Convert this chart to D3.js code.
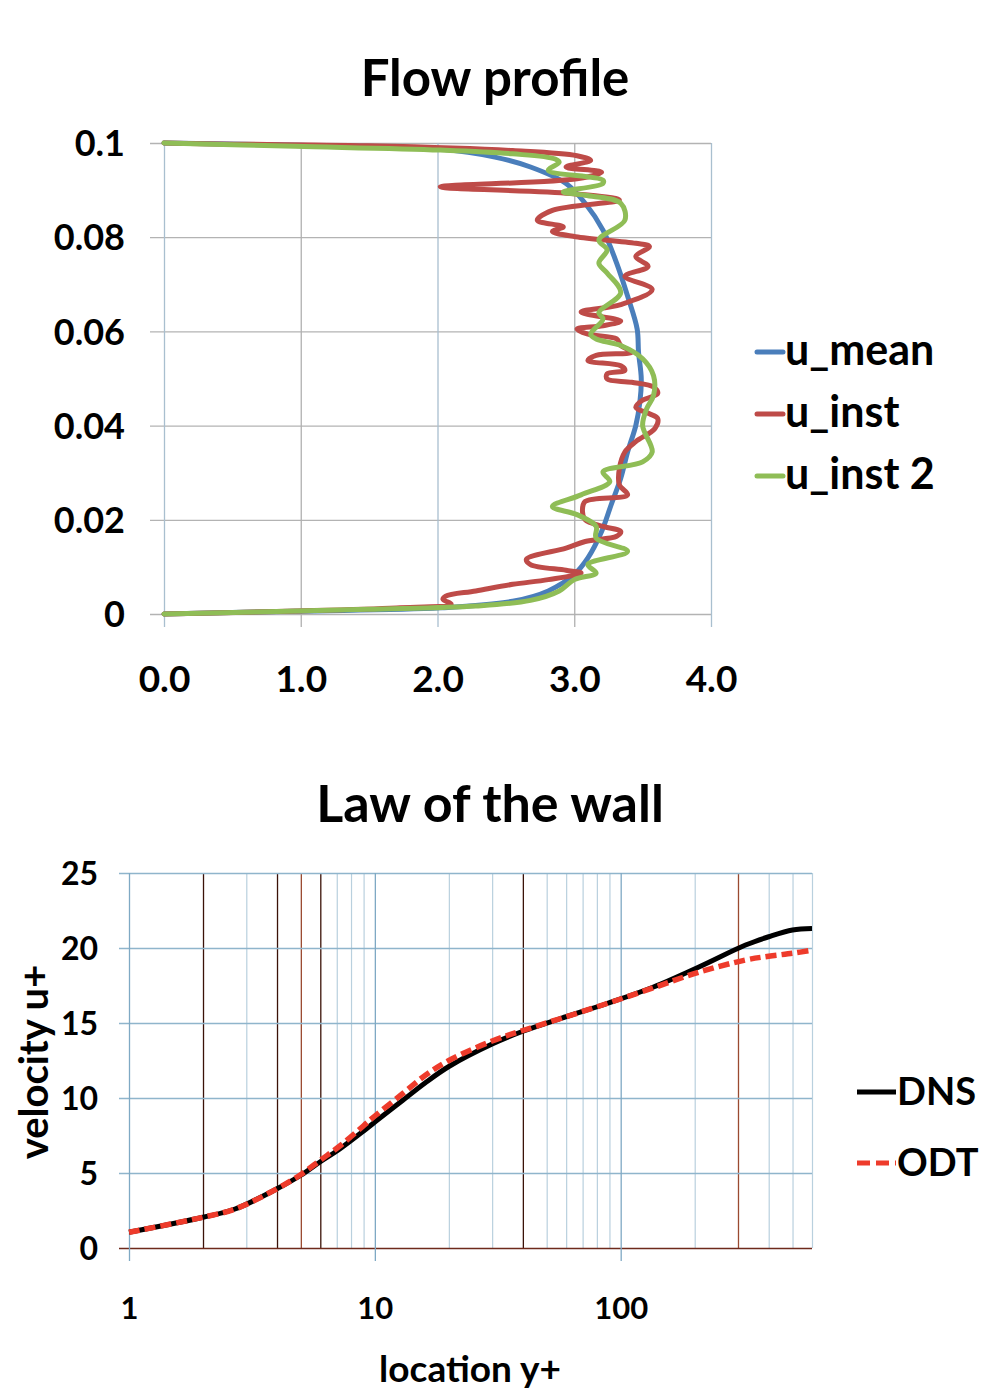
<!DOCTYPE html>
<head>
  <meta charset="utf-8">
  <script src="https://d3js.org/d3.v7.min.js"></script>
  <style>
    body { margin:0; background:#fff; }
    svg { display:block; }
    text { font-family: Lato, "Noto Sans", sans-serif; font-weight:700; fill:#000; }
  </style>
</head>
<body>
  <svg width="989" height="1389"></svg>
  <script>
    // ---- flow profile: wall distance (y) and velocity (u) for each series
    var meanY = [0, 0.0006, 0.0013, 0.0027, 0.0049, 0.0084, 0.0119, 0.0175, 0.0232, 0.0288, 0.0344, 0.04, 0.045, 0.05,
                 0.0556, 0.0605, 0.0675, 0.0745, 0.0815, 0.0872, 0.0914, 0.0949, 0.097, 0.0987, 0.0995, 0.1];
    var meanU = [0, 0.96, 2.02, 2.55, 2.81, 3.0, 3.10, 3.20, 3.27, 3.34, 3.39, 3.45, 3.48, 3.49,
                 3.47, 3.46, 3.39, 3.31, 3.21, 3.08, 2.94, 2.68, 2.42, 2.02, 1.0, 0];

    var instY = [0, 0.0006, 0.0013, 0.0021, 0.0031, 0.0038, 0.0049, 0.0063, 0.0073, 0.0087, 0.0093, 0.0105, 0.0116,
                 0.014, 0.0154, 0.0165, 0.0175, 0.0186, 0.02, 0.0218, 0.0239, 0.0253, 0.0274, 0.0309, 0.0344, 0.0366,
                 0.0394, 0.0415, 0.0425, 0.0439, 0.0454, 0.0468, 0.0482, 0.0492, 0.0499, 0.051, 0.0517, 0.0527, 0.0538,
                 0.0549, 0.0556, 0.057, 0.0584, 0.0594, 0.0605, 0.0612, 0.0622, 0.0641, 0.0657, 0.0689, 0.0717, 0.0738,
                 0.0759, 0.078, 0.0787, 0.0801, 0.0812, 0.0822, 0.0836, 0.0857, 0.0879, 0.0893, 0.0907, 0.0924, 0.0938,
                 0.0949, 0.0963, 0.0973, 0.0984, 0.0994, 0.0998, 0.1];
    var instU = [0, 0.9, 1.7, 2.1, 2.04, 2.06, 2.28, 2.55, 2.81, 3.05, 2.94, 2.68, 2.65,
                 2.94, 3.08, 3.31, 3.34, 3.21, 3.08, 3.06, 3.08, 3.39, 3.33, 3.33, 3.37, 3.45,
                 3.59, 3.61, 3.55, 3.45, 3.50, 3.61, 3.58, 3.42, 3.24, 3.24, 3.37, 3.34, 3.10,
                 3.16, 3.42, 3.34, 3.31, 3.10, 3.02, 3.21, 3.34, 3.05, 3.34, 3.57, 3.37, 3.54,
                 3.45, 3.55, 3.45, 3.01, 2.84, 2.92, 2.73, 2.84, 3.33, 2.97, 2.02, 3.02, 3.20,
                 2.94, 3.12, 3.02, 2.55, 1.49, 0.4, 0];

    var inst2Y = [0, 0.001, 0.0017, 0.0029, 0.0049, 0.0073, 0.0087, 0.0105, 0.0133, 0.0161, 0.0186, 0.0211, 0.0228,
                  0.0253, 0.0281, 0.0302, 0.0323, 0.0344, 0.04, 0.0436, 0.0464, 0.0506, 0.0542, 0.057, 0.0584, 0.0594,
                  0.0626, 0.064, 0.0682, 0.0724, 0.0745, 0.0773, 0.0794, 0.0836, 0.0872, 0.0889, 0.0896, 0.0914, 0.0921,
                  0.0942, 0.0959, 0.0966, 0.0977, 0.0985, 0.0993, 0.1];
    var inst2U = [0, 1.49, 2.28, 2.68, 2.89, 3.0, 3.16, 3.10, 3.39, 3.16, 3.16, 3.02, 2.84,
                  3.05, 3.26, 3.21, 3.50, 3.57, 3.50, 3.53, 3.58, 3.58, 3.50, 3.34, 3.16, 3.12,
                  3.21, 3.18, 3.34, 3.24, 3.18, 3.24, 3.18, 3.37, 3.34, 3.08, 2.92, 3.21, 3.21,
                  2.81, 2.89, 2.86, 2.55, 2.02, 0.96, 0];

    var profileNames = ['u_mean', 'u_inst', 'u_inst 2'];
    var profileColors = ['#4a7ebb', '#be4b48', '#8fbd56'];
    var profileXTicks = [0, 1, 2, 3, 4];
    var profileYTicks = [0, 0.02, 0.04, 0.06, 0.08, 0.1];
    var profileYLabels = ['0', '0.02', '0.04', '0.06', '0.08', '0.1'];

    // ---- law of the wall
    var yPlus = [1, 2, 2.7, 4, 5, 6, 7.2, 9, 10, 13, 16, 20, 30, 40, 57, 88, 136, 209, 322, 400, 500, 600];
    var dns   = [1.05, 2.05, 2.6, 3.95, 4.85, 5.75, 6.6, 7.8, 8.4, 9.85, 11.0, 12.1, 13.6, 14.45, 15.3, 16.3, 17.4, 18.75, 20.2, 20.75, 21.2, 21.3];
    var odt   = [1.05, 2.05, 2.6, 3.95, 4.9, 5.85, 6.8, 8.15, 8.8, 10.3, 11.5, 12.5, 13.8, 14.5, 15.3, 16.3, 17.35, 18.4, 19.2, 19.45, 19.65, 19.85];
    var wallNames = ['DNS', 'ODT'];
    var wallColors = ['#000', '#ee3b2b'];
    var wallXTicks = [1, 10, 100];
    var wallMinor = [2, 3, 4, 5, 6, 7, 8, 9, 20, 30, 40, 50, 60, 70, 80, 90, 200, 300, 400, 500, 600];
    var darkMinor = [2, 4, 6, 40];
    var brownMinor = [5, 300];
    var wallYTicks = [0, 5, 10, 15, 20, 25];

    var svg = d3.select('svg');

    // ================= Flow profile =================
    var px = d3.scaleLinear().domain([0, 4]).range([164, 711]);
    var py = d3.scaleLinear().domain([0, 0.1]).range([614, 143]);

    svg.append('text').attr('x', 495).attr('y', 96).attr('text-anchor', 'middle')
      .style('font-size', '51px').text('Flow profile');

    var gy = svg.append('g').attr('transform', 'translate(711,0)')
      .call(d3.axisLeft(py).tickValues(profileYTicks).tickSize(711 - 150).tickPadding(25)
        .tickFormat((d, i) => profileYLabels[i]));
    gy.select('.domain').remove();
    gy.selectAll('line').attr('stroke', '#b3b3b3').attr('stroke-width', 1.3);
    gy.selectAll('text').style('font-size', '36px').attr('dy', '0.35em');

    var gx = svg.append('g').attr('transform', 'translate(0,143)')
      .call(d3.axisBottom(px).tickValues(profileXTicks).tickSize(627 - 143).tickPadding(39)
        .tickFormat(d3.format('.1f')));
    gx.select('.domain').remove();
    gx.selectAll('line').attr('stroke', (d, i) => i % 2 ? '#b0b0b0' : '#a9bfcf').attr('stroke-width', 1.3);
    gx.selectAll('text').style('font-size', '37px');

    var profile = [[meanY, meanU], [instY, instU], [inst2Y, inst2U]];
    var pline = d3.line().x(d => px(d[1])).y(d => py(d[0])).curve(d3.curveCatmullRom.alpha(0.5));
    profile.forEach((s, k) => {
      svg.append('path')
        .datum(d3.zip(s[0], s[1]))
        .attr('d', pline)
        .attr('fill', 'none')
        .attr('stroke', profileColors[k])
        .attr('stroke-width', 5)
        .attr('stroke-linejoin', 'round')
        .attr('stroke-linecap', 'round');
    });

    // legend
    profileNames.forEach((n, i) => {
      var ly = 352 + i * 62;
      svg.append('line').attr('x1', 757).attr('x2', 783).attr('y1', ly).attr('y2', ly)
        .attr('stroke', profileColors[i]).attr('stroke-width', 5).attr('stroke-linecap', 'round');
      svg.append('text').attr('x', 785).attr('y', ly).attr('dy', '0.3em')
        .style('font-size', '43px').text(n);
    });

    // ================= Law of the wall =================
    var wx = d3.scaleLog().domain([1, 600]).range([129, 812]);
    var wy = d3.scaleLinear().domain([0, 25]).range([1248, 873]);

    svg.append('text').attr('x', 490).attr('y', 822).attr('text-anchor', 'middle')
      .style('font-size', '52px').text('Law of the wall');

    // minor vertical grid
    var gm = svg.append('g').attr('transform', 'translate(0,873)')
      .call(d3.axisBottom(wx).tickValues(wallMinor).tickSize(1248 - 873).tickFormat(''));
    gm.select('.domain').remove();
    gm.selectAll('line')
      .attr('stroke', d => darkMinor.includes(d) ? '#3b1208' : brownMinor.includes(d) ? '#9a4a30' : '#b9d0de')
      .attr('stroke-width', d => darkMinor.includes(d) || brownMinor.includes(d) ? 1.3 : 1.2);

    var wgy = svg.append('g').attr('transform', 'translate(812,0)')
      .call(d3.axisLeft(wy).tickValues(wallYTicks).tickSize(812 - 119).tickPadding(21));
    wgy.select('.domain').remove();
    wgy.selectAll('line').attr('stroke', d => d === 0 ? '#6e2a1c' : '#8fb5cc').attr('stroke-width', 1.3);
    wgy.selectAll('text').style('font-size', '32px').attr('dy', '0.35em');

    var wgx = svg.append('g').attr('transform', 'translate(0,873)')
      .call(d3.axisBottom(wx).tickValues(wallXTicks).tickSize(1261 - 873).tickPadding(36)
        .tickFormat(d3.format('d')));
    wgx.select('.domain').remove();
    wgx.selectAll('line').attr('stroke', '#7fa9c4').attr('stroke-width', 1.3);
    wgx.selectAll('text').style('font-size', '31px');

    svg.append('text').attr('transform', 'translate(48,1062) rotate(-90)')
      .attr('text-anchor', 'middle').style('font-size', '40px').text('velocity u+');
    svg.append('text').attr('x', 470).attr('y', 1382).attr('text-anchor', 'middle')
      .style('font-size', '37px').text('location y+');

    var wline = d3.line().x(d => wx(d[0])).y(d => wy(d[1])).curve(d3.curveCatmullRom.alpha(0.5));
    [dns, odt].forEach((s, k) => {
      svg.append('path')
        .datum(d3.zip(yPlus, s))
        .attr('d', wline)
        .attr('fill', 'none')
        .attr('stroke', wallColors[k])
        .attr('stroke-width', k ? 5.5 : 5)
        .attr('stroke-dasharray', k ? '11,5' : null);
    });

    wallNames.forEach((n, i) => {
      var ly = 1092 + i * 71;
      svg.append('line').attr('x1', 857).attr('x2', 896).attr('y1', ly).attr('y2', ly)
        .attr('stroke', wallColors[i]).attr('stroke-width', 5)
        .attr('stroke-dasharray', i ? '13,6' : null);
      svg.append('text').attr('x', 897).attr('y', ly).attr('dy', '0.35em')
        .style('font-size', '38px').text(n);
    });
  </script>
</body>
